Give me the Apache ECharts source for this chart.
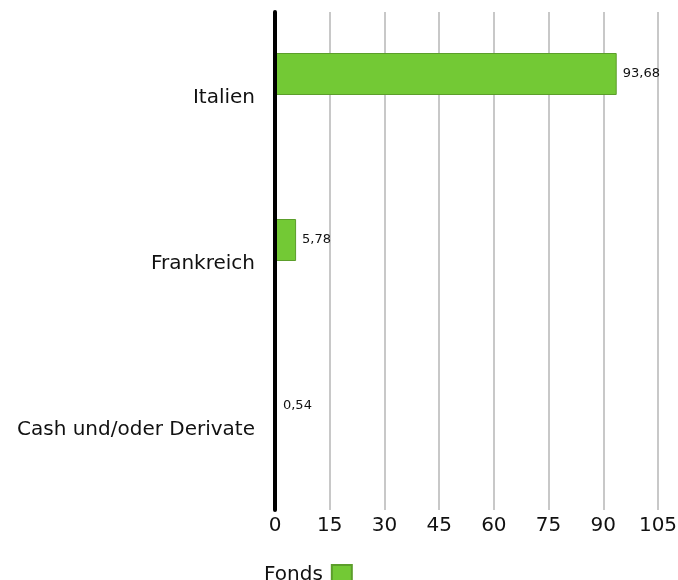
<!DOCTYPE html>
<html>
<head>
<meta charset="utf-8">
<script src="https://cdn.jsdelivr.net/npm/echarts@6/dist/echarts.min.js"></script>
<style>html,body{margin:0;padding:0;background:#fff;}#c{width:678px;height:580px;}</style>
</head>
<body>
<div id="c"></div>
<script>
const categories = ['Italien', 'Frankreich', 'Cash und/oder Derivate'];
const fondsValues = [93.68, 5.78, 0.54];
const xTicks = [0, 15, 30, 45, 60, 75, 90, 105];
const seriesName = 'Fonds';

const chart = echarts.init(document.getElementById('c'));
const FONT = 'DejaVu Sans';
chart.setOption({
  animation: false,
  textStyle: { fontFamily: FONT },
  grid: { left: 275, right: 20, top: 12, bottom: 70, outerBoundsMode: 'none', containLabel: false },
  legend: {
    data: [seriesName],
    left: 259, top: 559,
    align: 'right',
    itemWidth: 20, itemHeight: 20, itemGap: 8,
    textStyle: { fontFamily: FONT, fontSize: 20, color: '#111', padding: [4, 4, 0, 0] },
    icon: 'rect'
  },
  xAxis: {
    type: 'value',
    min: xTicks[0], max: xTicks[xTicks.length - 1], interval: 15,
    axisLine: { show: false },
    axisTick: { show: false },
    splitLine: { show: true, lineStyle: { color: '#c8c8c8', width: 2 } },
    axisLabel: { fontFamily: FONT, fontSize: 20, color: '#111', margin: 6 }
  },
  yAxis: {
    type: 'category',
    data: categories,
    inverse: true,
    z: 10,
    axisLine: { show: true, lineStyle: { color: '#000', width: 4 } },
    axisTick: { show: false },
    axisLabel: {
      fontFamily: FONT, fontSize: 20, color: '#111', margin: 20,
      formatter: v => '{a|' + v + '}',
      rich: { a: { fontFamily: FONT, fontSize: 20, color: '#111', padding: [6, 0, 0, 0] } }
    }
  },
  series: [
    {
      name: seriesName,
      type: 'bar',
      data: fondsValues,
      barWidth: 42,
      barGap: '0%',
      itemStyle: { color: '#73c935', borderColor: '#5c9e2b', borderWidth: 1 },
      label: {
        show: true, position: 'right', distance: 6,
        fontFamily: FONT, fontSize: 13, color: '#111',
        formatter: p => String(p.value).replace('.', ',')
      },
      z: 2
    },
    {
      name: '',
      type: 'bar',
      data: categories.map(() => null),
      barWidth: 42,
      barGap: '0%'
    }
  ]
});
</script>
</body>
</html>
